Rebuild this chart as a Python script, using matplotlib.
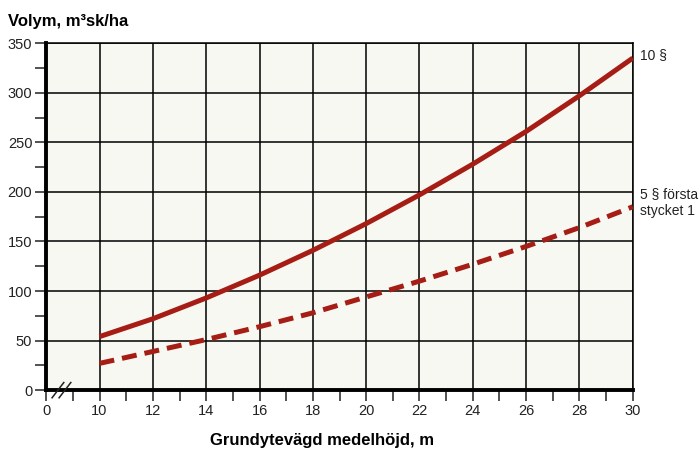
import numpy as np
import matplotlib
matplotlib.use("Agg")
import matplotlib.pyplot as plt

plt.rcParams['font.family'] = ['Liberation Sans', 'DejaVu Sans']

# data
hojd = [10, 12, 14, 16, 18, 20, 22, 24, 26, 28, 30]
vol_10 = [54, 72, 93, 116, 141, 168, 197, 228, 261, 297, 335]
vol_5 = [27, 39, 51, 64, 78, 94, 110, 127, 145, 164, 185]

x_ticks = [8, 10, 12, 14, 16, 18, 20, 22, 24, 26, 28, 30]
x_labels = ["0", "10", "12", "14", "16", "18", "20", "22", "24", "26", "28", "30"]
y_ticks = [0, 50, 100, 150, 200, 250, 300, 350]

red = "#a51d14"

fig = plt.figure(figsize=(7, 4.5), dpi=100)
ax = fig.add_axes([0.066, 0.133, 0.838, 0.771])
ax.set_facecolor("#f8f8f2")

## curves
ax.plot(hojd, vol_10, color=red, lw=3.6, solid_capstyle="butt",
        solid_joinstyle="round", zorder=3)
ax.plot(hojd, vol_5, color=red, lw=3.6, dashes=(3, 1.6), zorder=3)

## axes
ax.set_xlim(8, 30)
ax.set_ylim(0, 350)
ax.set_xticks(x_ticks)
ax.set_xticklabels(x_labels)
ax.set_xticks(np.arange(9, 30, 2), minor=True)
ax.set_yticks(y_ticks)
ax.set_yticks(np.arange(25, 350, 50), minor=True)
ax.grid(True, which="major", color="black", lw=1.1)
ax.set_axisbelow(True)
ax.tick_params(which="both", direction="out", length=8, width=1.1, color="#222222",
               labelsize=10.5, labelcolor="#222222", pad=2)

for s in ["top", "right"]:
    ax.spines[s].set_linewidth(1.1)
for s in ["left", "bottom"]:
    ax.spines[s].set_linewidth(2.8)

## axis break
for dx in [0, 0.012]:
    ax.plot([0.010 + dx, 0.030 + dx], [-0.022, 0.022], transform=ax.transAxes,
            color="#222222", lw=1.1, clip_on=False, zorder=5)

## labels
fig.text(0.012, 0.952, "Volym, m³sk/ha", fontsize=12, fontweight="bold", va="center")
fig.text(0.46, 0.022, "Grundytevägd medelhöjd, m", fontsize=12, fontweight="bold",
         ha="center", va="center")
fig.text(0.915, 0.878, "10 §", fontsize=10, color="#222222", va="center")
fig.text(0.915, 0.55, "5 § första\nstycket 1", fontsize=10, color="#222222",
         va="center", linespacing=1.2)

fig.savefig("out.png", dpi=100)
